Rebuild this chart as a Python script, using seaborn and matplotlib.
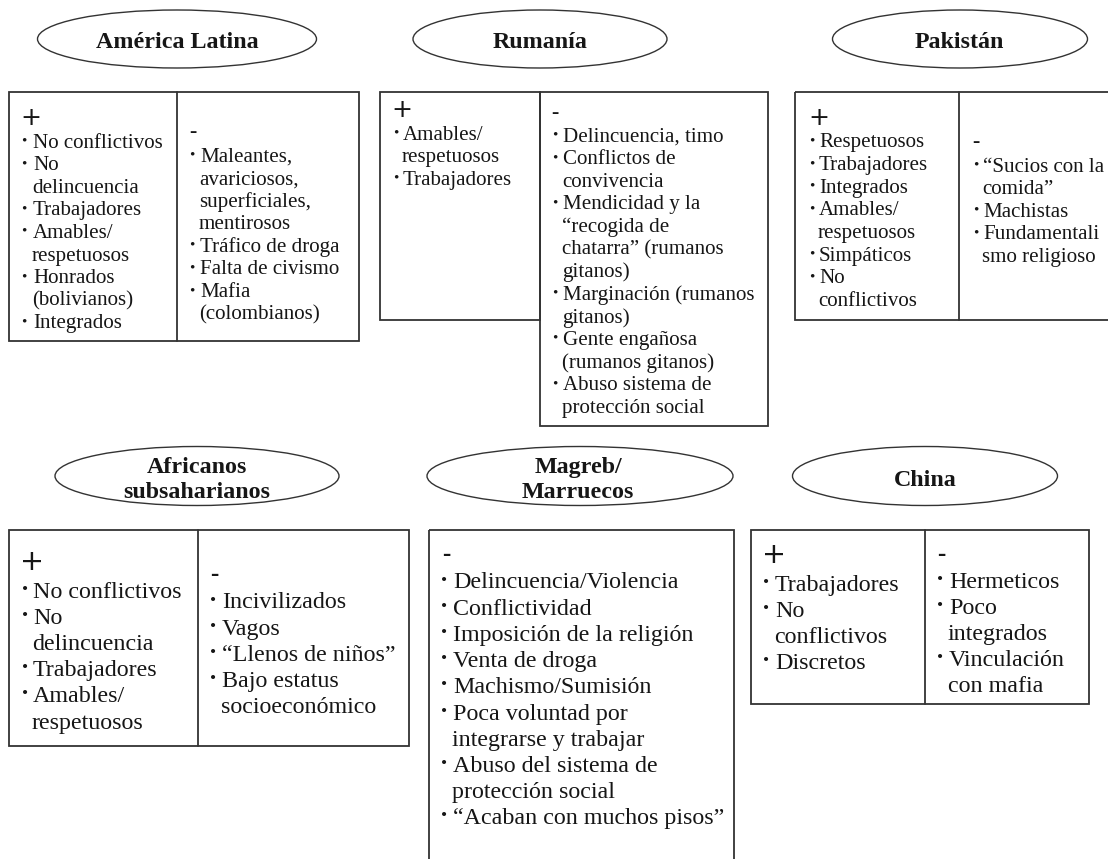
import numpy as np
import pandas as pd
import seaborn as sns
import matplotlib.pyplot as plt
from matplotlib.patches import Ellipse, Rectangle

# --- content -------------------------------------------------------------
regions = ["América Latina", "Rumanía", "Pakistán",
           "Africanos\nsubsaharianos", "Magreb/\nMarruecos", "China"]

america_pos = ["No conflictivos", "No\ndelincuencia", "Trabajadores",
               "Amables/\nrespetuosos", "Honrados\n(bolivianos)", "Integrados"]
america_neg = ["Maleantes,\navariciosos,\nsuperficiales,\nmentirosos",
               "Tráfico de droga", "Falta de civismo", "Mafia\n(colombianos)"]

rumania_pos = ["Amables/\nrespetuosos", "Trabajadores"]
rumania_neg = ["Delincuencia, timo", "Conflictos de\nconvivencia",
               "Mendicidad y la\n“recogida de\nchatarra” (rumanos\ngitanos)",
               "Marginación (rumanos\ngitanos)",
               "Gente engañosa\n(rumanos gitanos)",
               "Abuso sistema de\nprotección social"]

pakistan_pos = ["Respetuosos", "Trabajadores", "Integrados",
                "Amables/\nrespetuosos", "Simpáticos", "No\nconflictivos"]
pakistan_neg = ["“Sucios con la\ncomida”", "Machistas",
                "Fundamentali\nsmo religioso"]

africa_pos = ["No conflictivos", "No\ndelincuencia", "Trabajadores",
              "Amables/\nrespetuosos"]
africa_neg = ["Incivilizados", "Vagos", "“Llenos de niños”",
              "Bajo estatus\nsocioeconómico"]

magreb_neg = ["Delincuencia/Violencia", "Conflictividad",
              "Imposición de la religión", "Venta de droga",
              "Machismo/Sumisión", "Poca voluntad por\nintegrarse y trabajar",
              "Abuso del sistema de\nprotección social",
              "“Acaban con muchos pisos”"]

china_pos = ["Trabajadores", "No\nconflictivos", "Discretos"]
china_neg = ["Hermeticos", "Poco\nintegrados", "Vinculación\ncon mafia"]

# --- layout (pixels, y downwards) ---------------------------------------
ellipses = [(177, 39, 279, 58), (540, 39, 254, 58), (960, 39, 255, 58),
            (197, 476, 284, 59), (580, 476, 306, 59), (925, 476, 265, 59)]
title_pos = [(177, 43), (540, 43), (959, 43),
             (197, 480), (578, 480), (925, 480)]

boxes = [(9, 92, 350, 249), (380, 92, 160, 228), (540, 92, 228, 334),
         (795, 92, 330, 228), (9, 530, 400, 216), (429, 530, 305, 340),
         (751, 530, 338, 174)]
dividers = [(177, 92, 341), (959, 92, 320), (198, 530, 746), (925, 530, 704)]

# (sign, items, sign x, sign y, bullet x, text x, first item y, step, font px)
columns = [
    ("+", america_pos, 22, 118, 21, 33, 143, 22.6, 21),
    ("-", america_neg, 189, 132, 189, 200, 157, 22.6, 21),
    ("+", rumania_pos, 393, 110, 393, 403, 135, 22.6, 21),
    ("-", rumania_neg, 551, 113, 552, 563, 137, 22.6, 21),
    ("+", pakistan_pos, 810, 118, 809, 819, 143, 22.6, 21),
    ("-", pakistan_neg, 972, 142, 973, 983, 167, 22.6, 21),
    ("+", africa_pos, 22, 562, 22, 33, 592, 26.2, 24),
    ("-", africa_neg, 210, 575, 210, 222, 603, 26.2, 24),
    ("-", magreb_neg, 442, 555, 441, 453, 583, 26.2, 24),
    ("+", china_pos, 764, 555, 763, 775, 585, 26.2, 24),
    ("-", china_neg, 937, 555, 937, 949, 582, 26.2, 24),
]

ink = "#161616"
edge = "#333333"
px = 0.72  # pixel -> point at dpi 100

sns.set_theme(style="white")
plt.rcParams["font.family"] = ["Liberation Serif", "DejaVu Serif"]

fig = plt.figure(figsize=(11.08, 8.59), dpi=100)
ax = fig.add_axes([0, 0, 1, 1])
ax.set_xlim(0, 1108)
ax.set_ylim(859, 0)
ax.axis("off")

for (cx, cy, w, h), name, (tx, ty) in zip(ellipses, regions, title_pos):
    ax.add_patch(Ellipse((cx, cy), w, h, fill=False, ec=edge, lw=1.0))
    ax.text(tx, ty, name, ha="center", va="center", fontsize=24 * px,
            fontweight="bold", color=ink, linespacing=1.3)

for x0, y0, w, h in boxes:
    ax.add_patch(Rectangle((x0, y0), w, h, fill=False, ec=edge, lw=1.3))
for x, y0, y1 in dividers:
    ax.plot([x, x], [y0, y1], color=edge, lw=1.3)

for sign, items, sx, sy, bx, tx, y, step, fpx in columns:
    if sign == "+":
        ax.text(sx - 2, sy, "+", ha="left", va="center",
                fontsize=fpx * 1.2 * px, color=ink, family="DejaVu Sans")
    else:
        ax.text(sx, sy, "-", ha="left", va="center",
                fontsize=fpx * 1.05 * px, color=ink, fontweight="bold")
    for item in items:
        lines = item.split("\n")
        ax.text(bx, y - fpx * 0.1, "•", ha="left", va="center",
                fontsize=fpx * 0.72 * px, color=ink)
        for k, line in enumerate(lines):
            ax.text(tx - (1 if k else 0), y, line, ha="left", va="center",
                    fontsize=fpx * px, color=ink)
            y += step

fig.savefig("out.png", dpi=100)
